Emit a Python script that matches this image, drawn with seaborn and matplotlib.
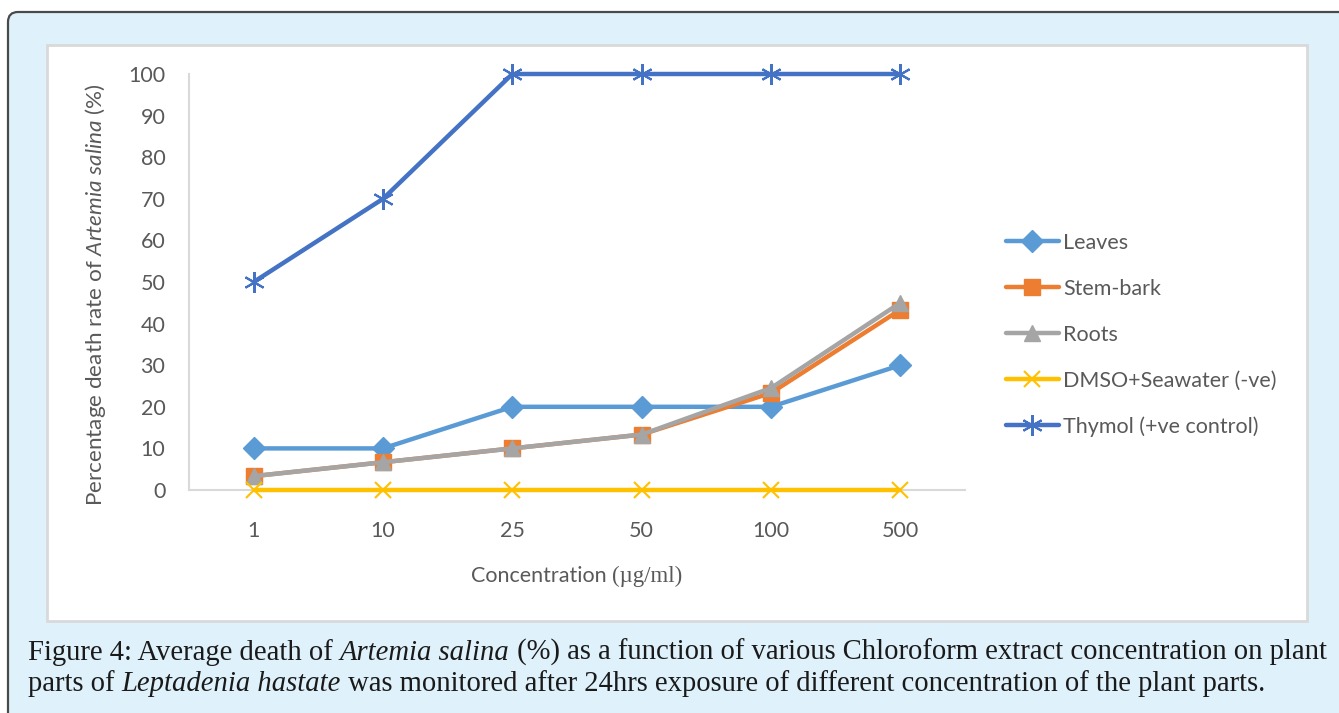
import numpy as np
import pandas as pd
import matplotlib
matplotlib.use("Agg")
import matplotlib.pyplot as plt
import seaborn as sns
from matplotlib.patches import FancyBboxPatch, Rectangle
from matplotlib.transforms import IdentityTransform

# ---- data ----
concentrations = ["1", "10", "25", "50", "100", "500"]
leaves = [10, 10, 20, 20, 20, 30]
stem_bark = [3.33, 6.67, 10, 13.33, 23.33, 43.33]
roots = [3.33, 6.67, 10, 13.33, 24.5, 45]
dmso = [0, 0, 0, 0, 0, 0]
thymol = [50, 70, 100, 100, 100, 100]
series_names = ["Leaves", "Stem-bark", "Roots", "DMSO+Seawater (-ve)", "Thymol (+ve control)"]
y_ticks = [0, 10, 20, 30, 40, 50, 60, 70, 80, 90, 100]

sns.set_style("white")
plt.rcParams['font.family'] = ['Lato', 'DejaVu Sans']
plt.rcParams['mathtext.fontset'] = 'custom'
plt.rcParams['mathtext.rm'] = 'Lato'
plt.rcParams['mathtext.it'] = 'Lato:italic'

W, H = 1339, 713
fig = plt.figure(figsize=(W / 100, H / 100), dpi=100, facecolor="white")

# outer light-blue box with rounded corner
outer = FancyBboxPatch((8, -30), W + 40, H - 12 + 30, boxstyle="round,pad=0,rounding_size=10",
                       transform=IdentityTransform(), facecolor="#DFF1FB", edgecolor="#4A4A4A",
                       linewidth=1.6, zorder=-3)
fig.add_artist(outer)
panel = Rectangle((47, H - 621), 1307 - 47, 621 - 45, transform=IdentityTransform(),
                  facecolor="white", edgecolor="#D9D9D9", linewidth=2, zorder=-2)
fig.add_artist(panel)

def fx(px):
    return px / W

def fy(py):
    return 1 - py / H

ax = fig.add_axes([fx(189), fy(490), fx(965) - fx(189), fy(74) - fy(490)])
ax.set_facecolor("none")

x_idx = np.arange(len(concentrations))
df = pd.DataFrame({"x": x_idx, "Leaves": leaves, "Stem-bark": stem_bark, "Roots": roots,
                   "DMSO+Seawater (-ve)": dmso, "Thymol (+ve control)": thymol})

styles = {
    "Leaves": dict(color="#5B9BD5", marker="D", markersize=11),
    "Stem-bark": dict(color="#ED7D31", marker="s", markersize=11),
    "Roots": dict(color="#A5A5A5", marker="^", markersize=12),
    "DMSO+Seawater (-ve)": dict(color="#FFC000", marker="x", markersize=12, markeredgewidth=1.5),
    "Thymol (+ve control)": dict(color="#4472C4", marker=(6, 2, 0), markersize=15, markeredgewidth=1.5),
}
for i, name in enumerate(series_names):
    st = styles[name]
    sns.lineplot(data=df, x="x", y=name, ax=ax, color=st["color"], marker=st["marker"],
                 markersize=st["markersize"], markeredgecolor=st["color"],
                 markerfacecolor=st["color"],
                 markeredgewidth=st.get("markeredgewidth", 1), linewidth=3.2,
                 label=name, clip_on=False, zorder=3 + i)

ax.set_xlim(-0.5, len(concentrations) - 0.5)
ax.set_ylim(0, 100)
ax.set_xticks(x_idx)
ax.set_xticklabels(concentrations)
ax.set_yticks(y_ticks)
ax.tick_params(axis="both", length=0, labelsize=15.5, labelcolor="#595959")
ax.tick_params(axis="x", pad=22)
ax.tick_params(axis="y", pad=17)
for s in ["top", "right"]:
    ax.spines[s].set_visible(False)
for s in ["left", "bottom"]:
    ax.spines[s].set_color("#D9D9D9")
    ax.spines[s].set_linewidth(1.5)
ax.set_xlabel("")
ax.set_ylabel("")

# y label
fig.text(fx(96), fy(295), "Percentage death rate of $\\mathit{Artemia\\ salina}$ (%)",
         rotation=90, ha="center", va="center", fontsize=16.2, color="#595959")

# legend
ax.legend(loc="upper left", bbox_to_anchor=(fx(1006), fy(233)), bbox_transform=fig.transFigure,
          frameon=False, fontsize=15.5, labelcolor="#595959", handlelength=2.45,
          handletextpad=0.2, labelspacing=1.2, borderaxespad=0, borderpad=0)

fig.canvas.draw()
renderer = fig.canvas.get_renderer()

def text_width(s, **kw):
    t = fig.text(0, 0, s, **kw)
    w = t.get_window_extent(renderer).width
    t.remove()
    return w

# x label: "Concentration " in sans + "(µg/ml)" in serif
p1 = "Concentration "
p2 = "(µg/ml)"
kw1 = dict(fontsize=15.5, color="#595959", family=["Lato", "DejaVu Sans"])
kw2 = dict(fontsize=16.5, color="#595959", family=["Liberation Serif", "DejaVu Serif"])
w1 = text_width(p1, **kw1)
w2 = text_width(p2, **kw2)
x0 = 577 - (w1 + w2) / 2
fig.text(fx(x0), fy(582), p1, ha="left", va="baseline", **kw1)
fig.text(fx(x0 + w1), fy(582), p2, ha="left", va="baseline", **kw2)

# caption with mixed italics
cap_kw = dict(fontsize=20.6, color="#1A1A1A", family=["Liberation Serif", "DejaVu Serif"])
lines = [
    [("Figure 4: Average death of ", "normal"), ("Artemia salina", "italic"),
     (" (%) as a function of various Chloroform extract concentration on plant", "normal")],
    [("parts of ", "normal"), ("Leptadenia hastate", "italic"),
     (" was monitored after 24hrs exposure of different concentration of the plant parts.", "normal")],
]
baselines = [660, 691]
for parts, by in zip(lines, baselines):
    xp = 28
    for s, stl in parts:
        t = fig.text(fx(xp), fy(by), s, ha="left", va="baseline", style=stl, **cap_kw)
        xp += t.get_window_extent(renderer).width

fig.savefig("out.png", dpi=100, facecolor="white")
